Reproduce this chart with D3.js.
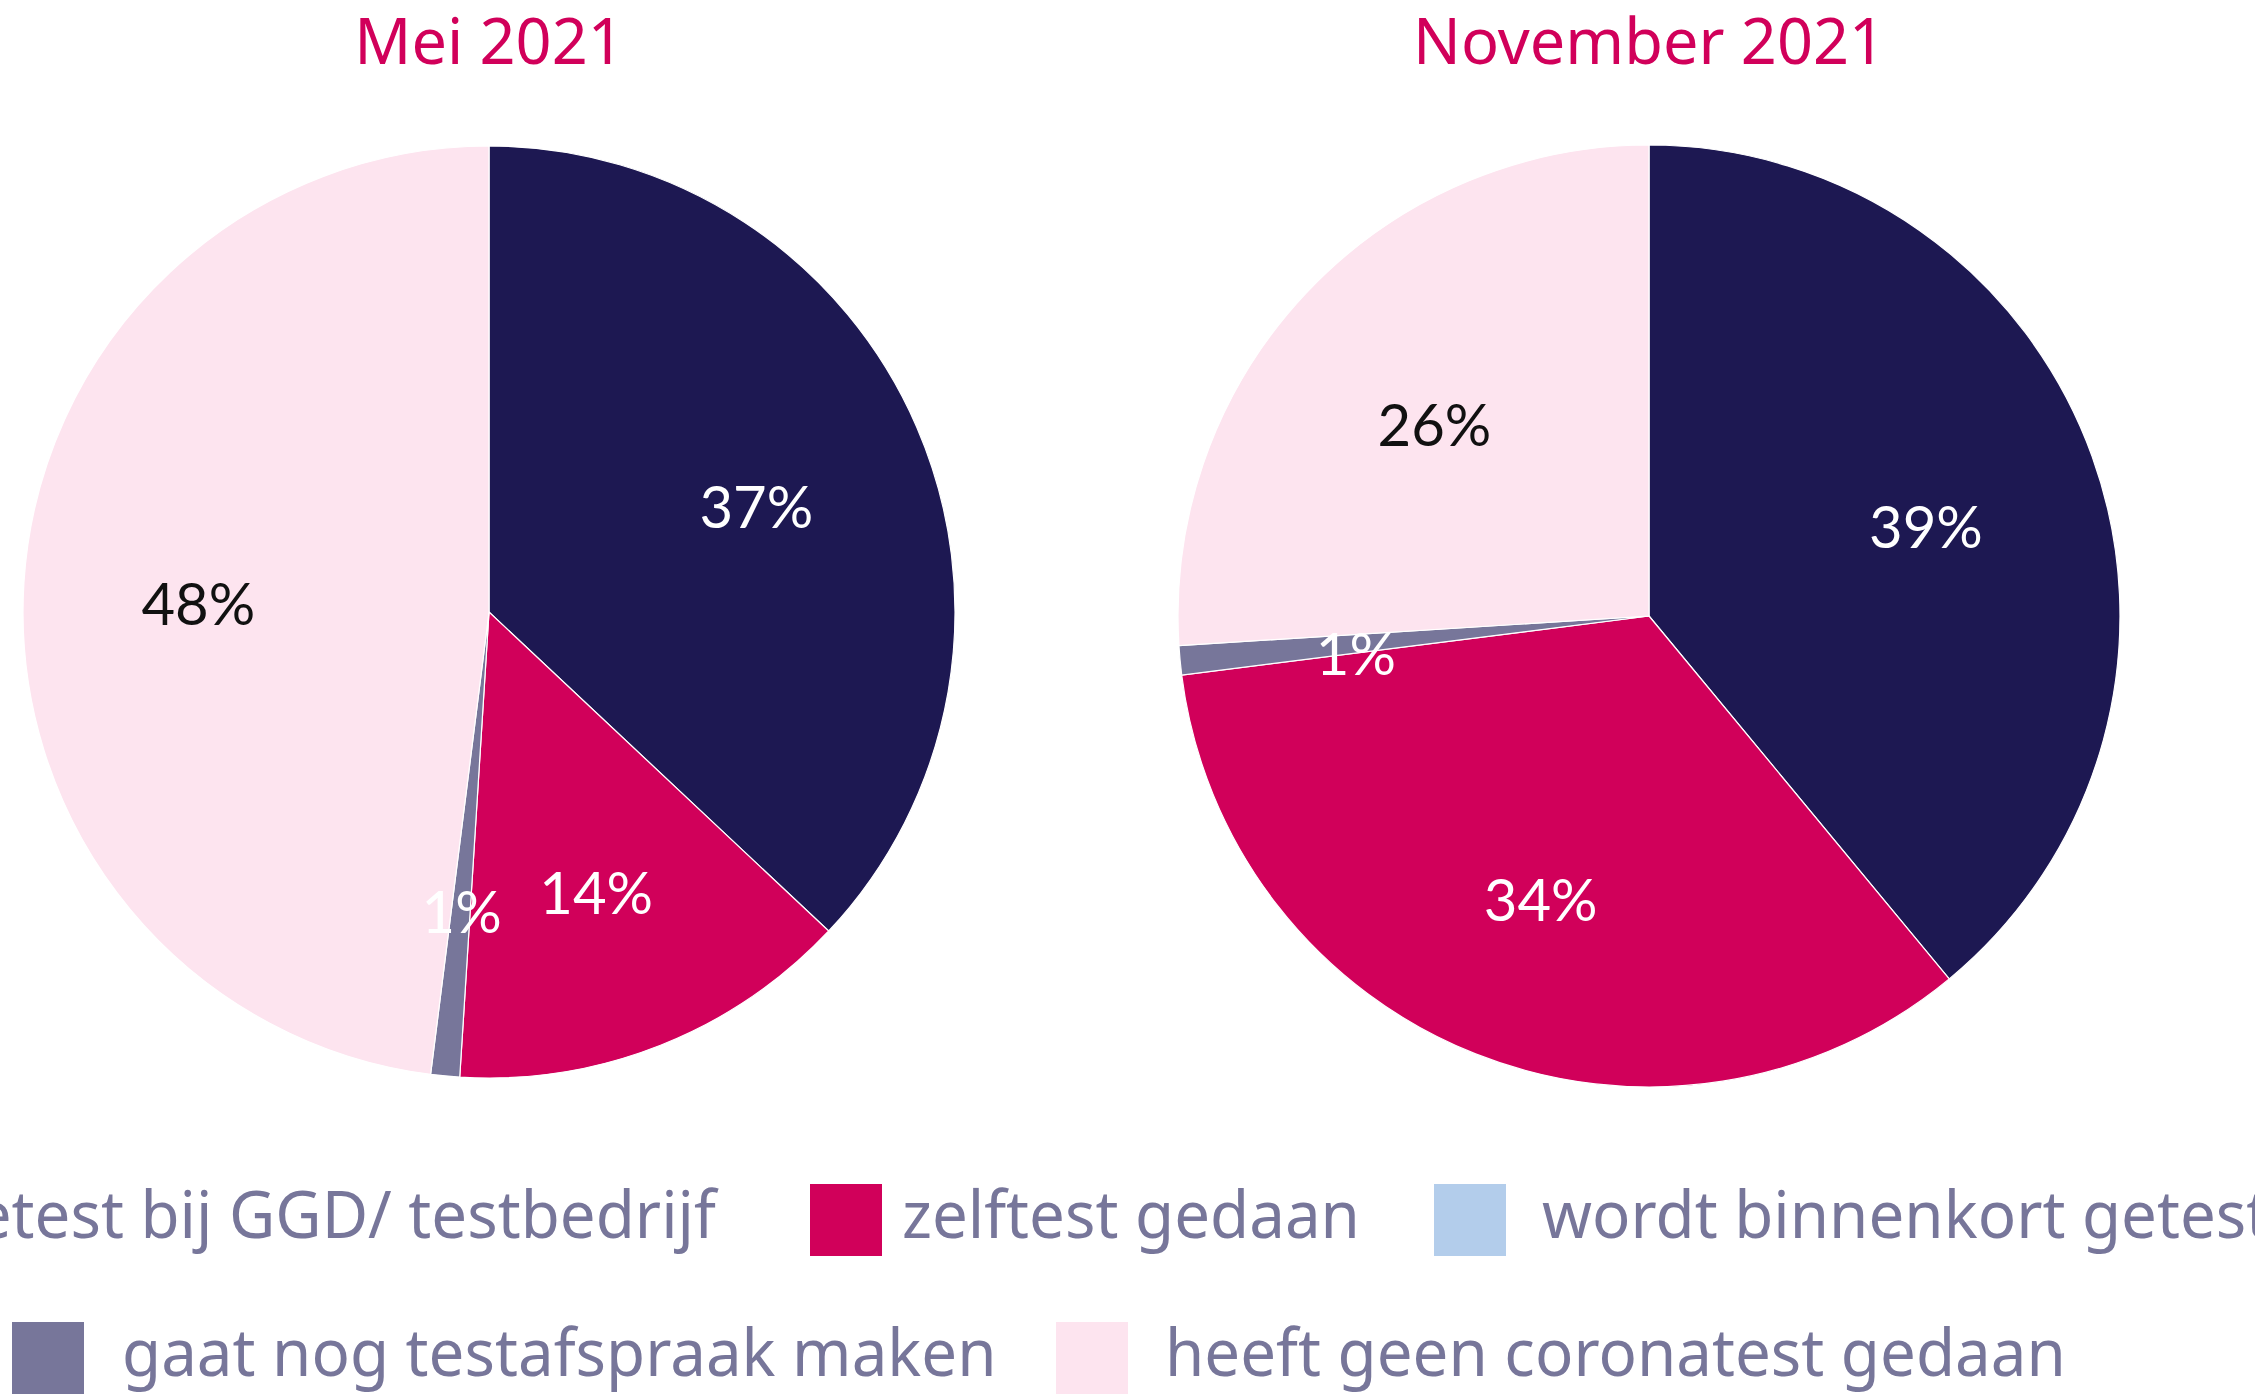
<!DOCTYPE html>
<html>
<head>
<meta charset="utf-8">
<script src="https://cdn.jsdelivr.net/npm/d3@7"></script>
<style>
  html, body { margin: 0; padding: 0; background: #fff; overflow: hidden; }
  svg { display: block; }
</style>
</head>
<body>
<div id="chart"></div>
<script>
// the data
const categories = [
  "getest bij GGD/ testbedrijf",
  "zelftest gedaan",
  "wordt binnenkort getest",
  "gaat nog testafspraak maken",
  "heeft geen coronatest gedaan"
];
const meiValues = [37, 14, 0, 1, 48];
const novemberValues = [39, 34, 0, 1, 26];
const titles = ["Mei 2021", "November 2021"];

const colors = ["#1d1852", "#d1005a", "#b3cdeb", "#77769a", "#fde4ef"];
const labelColors = ["#fff", "#fff", "#fff", "#fff", "#111"];

const W = 2255, H = 1394;

const svg = d3.select("#chart").append("svg")
  .attr("width", W)
  .attr("height", H);

// where each pie sits (layout only)
const pies = [
  { title: titles[0], values: meiValues, cx: 489, cy: 612, r: 466 },
  { title: titles[1], values: novemberValues, cx: 1649, cy: 616, r: 471 }
];

const pie = d3.pie().sort(null).value(d => d);

pies.forEach(p => {
  const g = svg.append("g").attr("transform", `translate(${p.cx},${p.cy})`);
  const arc = d3.arc().innerRadius(0).outerRadius(p.r);
  const labelArc = d3.arc().innerRadius(p.r * 0.625).outerRadius(p.r * 0.625);
  const arcs = pie(p.values).map((a, i) => Object.assign(a, { idx: i }));

  g.selectAll("path.slice")
    .data(arcs.filter(a => a.value > 0))
    .join("path")
    .attr("class", "slice")
    .attr("d", arc)
    .attr("fill", d => colors[d.idx])
    .attr("stroke", "#fff")
    .attr("stroke-width", 1.2);

  g.selectAll("text.lbl")
    .data(arcs.filter(a => a.value > 0))
    .join("text")
    .attr("class", "lbl")
    .attr("transform", d => `translate(${labelArc.centroid(d)})`)
    .attr("text-anchor", "middle")
    .attr("dy", "0.54em")
    .attr("font-family", "Lato, 'Open Sans', sans-serif")
    .attr("font-size", 58)
    .attr("fill", d => labelColors[d.idx])
    .text(d => d.value + "%");

  // title above the pie
  svg.append("text")
    .attr("x", p.cx)
    .attr("y", 64)
    .attr("text-anchor", "middle")
    .attr("font-family", "'Noto Sans', 'Open Sans', sans-serif")
    .attr("font-size", 63)
    .attr("fill", "#d1005a")
    .text(p.title);
});

// legend, two rows; the first item is cut at the left edge like in the original
const legendBox = 72;
const legendRows = [
  { y: 1238, items: [
    { i: 0, textEnd: 716 },
    { i: 1, box: 810, text: 902 },
    { i: 2, box: 1434, text: 1542 }
  ]},
  { y: 1376, items: [
    { i: 3, box: 12, text: 122 },
    { i: 4, box: 1056, text: 1165 }
  ]}
];

const legend = svg.append("g").attr("class", "legend");

// measure the legend font so it can be squeezed to the narrow look of the original
const probe = legend.append("text")
  .attr("font-family", "'Noto Sans', sans-serif")
  .attr("font-size", 66)
  .text(categories[1]);
const squeeze = 458 / probe.node().getComputedTextLength();
probe.remove();

legendRows.forEach(row => {
  row.items.forEach(it => {
    let textX = it.text;
    let boxX = it.box;
    const t = legend.append("text")
      .attr("font-family", "'Noto Sans', sans-serif")
      .attr("font-size", 66)
      .attr("fill", "#77769a")
      .text(categories[it.i]);
    const w = t.node().getComputedTextLength() * squeeze;
    if (it.textEnd !== undefined) {
      textX = it.textEnd - w;
      boxX = textX - 36 - legendBox;
    }
    t.attr("transform", `translate(${textX},${row.y}) scale(${squeeze},1)`);
    legend.append("rect")
      .attr("x", boxX)
      .attr("y", row.y - 54)
      .attr("width", legendBox)
      .attr("height", legendBox)
      .attr("fill", colors[it.i]);
  });
});
</script>
</body>
</html>
